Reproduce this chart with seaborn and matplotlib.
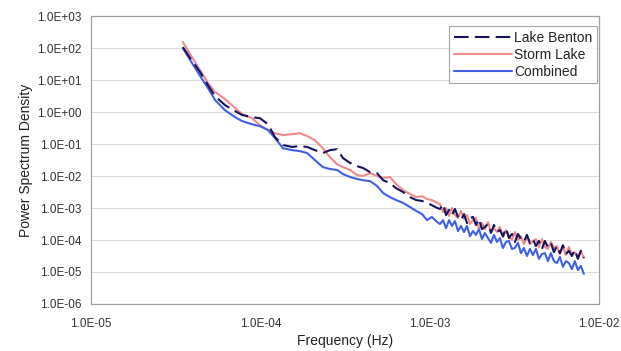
import numpy as np
import pandas as pd
import matplotlib
matplotlib.use("Agg")
from matplotlib import pyplot as plt
from matplotlib.ticker import FixedLocator, FuncFormatter, NullLocator
import seaborn as sns

# frequencies (Hz), shared by all three spectra
freq = [3.49e-5, 3.85e-5, 4.41e-5, 4.91e-5, 5.40e-5, 6.18e-5, 7.10e-5, 7.80e-5, 8.93e-5, 9.95e-5,
        1.11e-4, 1.22e-4, 1.36e-4, 1.54e-4, 1.71e-4, 1.89e-4, 2.10e-4, 2.34e-4, 2.58e-4, 2.84e-4,
        3.08e-4, 3.39e-4, 3.72e-4, 4.05e-4, 4.45e-4, 4.89e-4, 5.31e-4, 5.83e-4, 6.34e-4, 6.97e-4,
        7.66e-4, 8.32e-4, 9.02e-4, 9.66e-4, 1.03e-3, 1.11e-3,
        1.152e-3, 1.200e-3, 1.250e-3, 1.302e-3, 1.356e-3, 1.412e-3, 1.471e-3, 1.532e-3, 1.596e-3,
        1.662e-3, 1.731e-3, 1.803e-3, 1.878e-3, 1.956e-3, 2.038e-3, 2.122e-3, 2.211e-3, 2.303e-3,
        2.398e-3, 2.498e-3, 2.602e-3, 2.710e-3, 2.823e-3, 2.940e-3, 3.063e-3, 3.190e-3, 3.323e-3,
        3.461e-3, 3.605e-3, 3.755e-3, 3.911e-3, 4.074e-3, 4.243e-3, 4.420e-3, 4.604e-3, 4.795e-3,
        4.995e-3, 5.202e-3, 5.419e-3, 5.644e-3, 5.879e-3, 6.124e-3, 6.378e-3, 6.644e-3, 6.920e-3,
        7.208e-3, 7.508e-3, 7.820e-3, 8.145e-3]

# log10 of power spectrum density
benton_log = [2.03, 1.69, 1.25, 0.84, 0.50, 0.22, 0.03, -0.09, -0.16, -0.19,
              -0.38, -0.78, -1.03, -1.09, -1.06, -1.09, -1.19, -1.28, -1.19, -1.16,
              -1.44, -1.59, -1.69, -1.75, -1.88, -1.91, -2.13, -2.22, -2.38, -2.50,
              -2.66, -2.75, -2.78, -2.84, -2.91, -3.00,
              -3.03, -2.88, -3.22, -3.06, -3.22, -3.03, -3.28, -3.38, -3.19, -3.47,
              -3.31, -3.28, -3.53, -3.34, -3.66, -3.59, -3.50, -3.78, -3.53, -3.75,
              -3.69, -3.88, -3.63, -3.94, -3.81, -4.06, -3.81, -3.97, -4.06, -3.84,
              -4.09, -3.97, -4.19, -4.03, -4.28, -4.03, -4.22, -4.09, -4.38, -4.19,
              -4.41, -4.16, -4.44, -4.34, -4.50, -4.31, -4.59, -4.34, -4.56]
storm_log = [2.19, 1.81, 1.31, 0.91, 0.63, 0.41, 0.13, -0.06, -0.19, -0.41,
             -0.56, -0.66, -0.72, -0.69, -0.66, -0.75, -0.88, -1.13, -1.41, -1.63,
             -1.72, -1.81, -1.97, -2.00, -1.91, -2.00, -2.06, -2.03, -2.25, -2.44,
             -2.56, -2.66, -2.63, -2.72, -2.75, -2.84,
             -2.88, -3.13, -3.00, -3.25, -3.00, -3.22, -3.31, -3.09, -3.34, -3.22,
             -3.50, -3.38, -3.31, -3.66, -3.47, -3.66, -3.44, -3.75, -3.63, -3.75,
             -3.59, -3.91, -3.69, -3.88, -4.00, -3.75, -4.00, -3.88, -4.13, -3.88,
             -4.13, -4.03, -3.97, -4.22, -3.97, -4.22, -4.28, -4.06, -4.25, -4.19,
             -4.44, -4.22, -4.47, -4.22, -4.44, -4.38, -4.53, -4.34, -4.56]
combined_log = [2.00, 1.63, 1.13, 0.75, 0.38, 0.06, -0.16, -0.28, -0.38, -0.44,
                -0.56, -0.81, -1.13, -1.19, -1.22, -1.28, -1.50, -1.72, -1.78, -1.81,
                -1.94, -2.03, -2.09, -2.13, -2.16, -2.31, -2.53, -2.66, -2.75, -2.84,
                -2.97, -3.09, -3.19, -3.38, -3.28, -3.44,
                -3.50, -3.38, -3.63, -3.38, -3.56, -3.41, -3.72, -3.56, -3.75, -3.56,
                -3.88, -3.72, -3.84, -3.66, -3.97, -3.78, -3.94, -4.09, -3.84, -4.06,
                -3.94, -4.25, -4.06, -4.03, -4.28, -4.25, -4.09, -4.41, -4.25, -4.50,
                -4.28, -4.47, -4.28, -4.59, -4.44, -4.41, -4.66, -4.41, -4.66, -4.72,
                -4.53, -4.84, -4.66, -4.72, -4.91, -4.66, -4.94, -4.81, -5.06]

df = pd.DataFrame({
    "freq": freq,
    "Lake Benton": np.power(10.0, benton_log),
    "Storm Lake": np.power(10.0, storm_log),
    "Combined": np.power(10.0, combined_log),
})

sns.set_style("white")
plt.rcParams['font.family'] = ['Liberation Sans', 'DejaVu Sans']

fig = plt.figure(figsize=(6.21, 3.51), dpi=100)
ax = fig.add_axes([0.1465, 0.134, 0.818, 0.820])

sns.lineplot(data=df, x="freq", y="Storm Lake", ax=ax, color="#f08a8a", lw=1.5,
             estimator=None, sort=False)
sns.lineplot(data=df, x="freq", y="Combined", ax=ax, color="#3f5fe6", lw=1.5,
             estimator=None, sort=False)
sns.lineplot(data=df, x="freq", y="Lake Benton", ax=ax, color="#14145e", lw=1.5,
             estimator=None, sort=False)
lines = ax.get_lines()
lines[2].set_dashes([7, 3])

ax.set_xscale("log")
ax.set_yscale("log")
ax.set_xlim(1e-5, 1e-2)
ax.set_ylim(1e-6, 1e3)

ax.xaxis.set_major_locator(FixedLocator([1e-5, 1e-4, 1e-3, 1e-2]))
ax.yaxis.set_major_locator(FixedLocator([10.0 ** k for k in range(-6, 4)]))
ax.xaxis.set_minor_locator(NullLocator())
ax.yaxis.set_minor_locator(NullLocator())
fmt = FuncFormatter(lambda v, p: "%.1E" % v)
ax.xaxis.set_major_formatter(fmt)
ax.yaxis.set_major_formatter(fmt)

ax.yaxis.grid(True, color="#dcdcdc", lw=0.8)
ax.xaxis.grid(False)
for s in ax.spines.values():
    s.set_color("#a0a0a0")
    s.set_linewidth(0.9)
ax.tick_params(axis="both", labelsize=8.5, labelcolor="#333333", color="#a0a0a0",
               length=3, width=0.8, direction="out")
ax.tick_params(axis="x", pad=7)
ax.tick_params(axis="y", pad=4)
ax.set_xlabel("Frequency (Hz)", fontsize=10, color="#222222", labelpad=3)
ax.set_ylabel("Power Spectrum Density", fontsize=10, color="#222222", labelpad=3)

handles = [lines[2], lines[0], lines[1]]
leg = ax.legend(handles, ["Lake Benton", "Storm Lake", "Combined"], loc="upper right",
                bbox_to_anchor=(0.996, 0.965), fontsize=10, frameon=True, fancybox=False,
                edgecolor="#909090", handlelength=4.2, handletextpad=0.1,
                borderpad=0.35, labelspacing=0.2, borderaxespad=0.0)
leg.get_frame().set_linewidth(0.8)
leg.get_lines()[0].set_dashes([7, 3])

fig.savefig("out.png", dpi=100)
